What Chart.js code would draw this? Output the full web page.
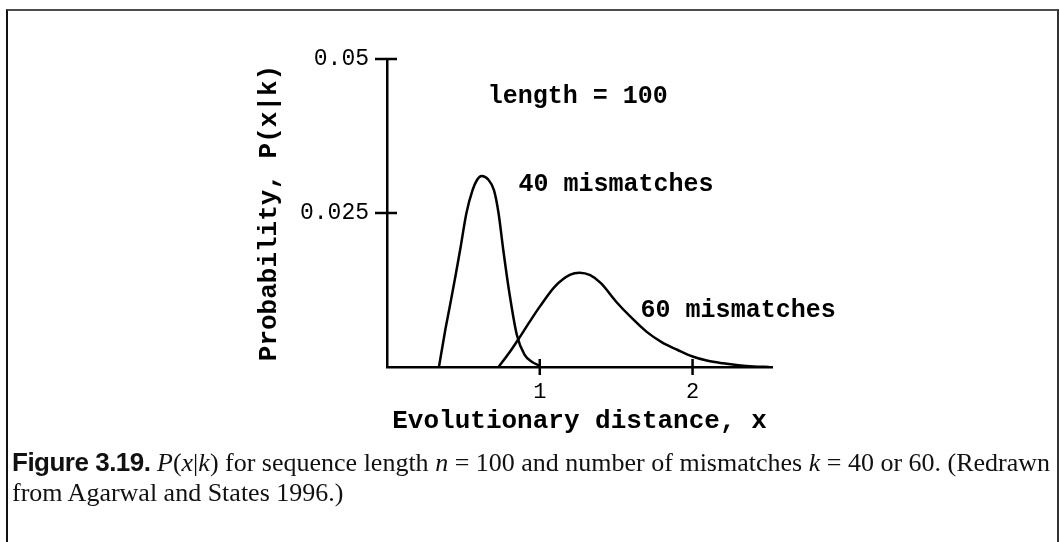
<!DOCTYPE html>
<html>
<head>
<meta charset="utf-8">
<script src="https://cdn.jsdelivr.net/npm/chart.js@4.4.1/dist/chart.umd.min.js"></script>
<style>
  html, body { margin: 0; padding: 0; background: #fff; }
  body { width: 1060px; height: 542px; position: relative; overflow: hidden; }
  #wrap { position: absolute; left: 0; top: 0; width: 1060px; height: 542px; }
  #frame {
    position: absolute; left: 6px; top: 9px; right: 1px; bottom: -20px;
    border-top: 2px solid #4d4d4d; border-left: 2px solid #111; border-right: 2px solid #333;
  }
  #caption {
    position: absolute; left: 12px; top: 447px; width: 1045px;
    font-family: "Liberation Serif", "DejaVu Serif", serif; font-size: 26px; line-height: 30px;
    color: #111; white-space: nowrap;
  }
  #caption b { font-family: "Liberation Sans Narrow", "Liberation Sans", sans-serif; font-stretch: condensed; letter-spacing: -0.5px; }
</style>
</head>
<body>
<div id="frame"></div>
<div id="wrap"><canvas id="chart" width="1060" height="542"></canvas></div>
<div id="caption"><b>Figure 3.19.</b> <i>P</i>(<i>x</i>|<i>k</i>) for sequence length <i>n</i> = 100 and number of mismatches <i>k</i> = 40 or 60. (Redrawn<br>from Agarwal and States 1996.)</div>
<script>
// data
const x40 = [0.34, 0.38, 0.41, 0.45, 0.48, 0.52, 0.56, 0.59, 0.62, 0.66, 0.70, 0.73, 0.76, 0.80, 0.85, 0.90, 0.95, 1.00];
const p40 = [0, 0.0058, 0.0097, 0.0150, 0.0192, 0.0250, 0.0287, 0.0304, 0.0310, 0.0305, 0.0287, 0.0250, 0.0192, 0.0122, 0.0052, 0.0020, 0.0008, 0.0002];
const x60 = [0.73, 0.80, 0.86, 0.93, 1.00, 1.10, 1.20, 1.26, 1.33, 1.40, 1.50, 1.60, 1.70, 1.80, 1.90, 2.00, 2.10, 2.20, 2.30, 2.40, 2.50];
const p60 = [0, 0.0023, 0.0045, 0.0072, 0.0098, 0.0131, 0.0150, 0.0153, 0.0149, 0.0136, 0.0106, 0.0080, 0.0057, 0.0040, 0.0028, 0.0017, 0.0010, 0.0006, 0.0003, 0.0001, 0];

const xTicks = [1, 2];
const yTicks = [0.025, 0.05];
const yTickLabels = ['0.025', '0.05'];

const labelTexts = ['length = 100', '40 mismatches', '60 mismatches'];
const labelX = [0.66, 0.86, 1.66];
const labelY = [0.0438, 0.0296, 0.0091];

const mono = "'Liberation Mono', 'DejaVu Sans Mono', monospace";

function toPoints(xs, ys) {
    return xs.map((x, i) => ({ x: x, y: ys[i] }));
}

// ticks that cross the axes + the text labels inside the plot
const extras = {
    id: 'extras',
    afterDraw(chart) {
        const ctx = chart.ctx;
        const xs = chart.scales.x, ys = chart.scales.y;
        ctx.save();
        ctx.strokeStyle = '#000';
        ctx.lineWidth = 2.5;
        xTicks.forEach(v => {
            const px = xs.getPixelForValue(v);
            ctx.beginPath();
            ctx.moveTo(px, ys.bottom - 8);
            ctx.lineTo(px, ys.bottom + 8);
            ctx.stroke();
        });
        yTicks.forEach(v => {
            const py = ys.getPixelForValue(v);
            ctx.beginPath();
            ctx.moveTo(xs.left - 12, py);
            ctx.lineTo(xs.left + 10, py);
            ctx.stroke();
        });
        ctx.fillStyle = '#000';
        ctx.font = 'bold 25px ' + mono;
        ctx.textBaseline = 'middle';
        ctx.textAlign = 'left';
        labelTexts.forEach((t, i) => {
            ctx.fillText(t, xs.getPixelForValue(labelX[i]), ys.getPixelForValue(labelY[i]));
        });
        ctx.restore();
    }
};

const config = {
    type: 'line',
    data: {
        datasets: [
            { label: '40 mismatches', data: toPoints(x40, p40) },
            { label: '60 mismatches', data: toPoints(x60, p60) }
        ]
    },
    options: {
        responsive: false,
        animation: false,
        events: [],
        layout: { padding: { left: 254, top: 59, right: 288, bottom: 105 } },
        elements: {
            line: { borderColor: '#000', borderWidth: 2.5, cubicInterpolationMode: 'monotone', fill: false },
            point: { radius: 0 }
        },
        plugins: { legend: { display: false }, tooltip: { enabled: false } },
        scales: {
            x: {
                type: 'linear',
                min: 0,
                max: 2.52,
                afterFit(scale) { scale.height = 70; },
                grid: { display: false, drawTicks: false },
                border: { display: true, color: '#000', width: 2.5 },
                afterBuildTicks(scale) { scale.ticks = xTicks.map(v => ({ value: v })); },
                ticks: {
                    padding: 12,
                    color: '#000',
                    font: { family: mono, size: 22 },
                    callback: v => String(v)
                },
                title: {
                    display: true,
                    text: 'Evolutionary distance, x',
                    color: '#000',
                    padding: 0,
                    font: { family: mono, size: 26, weight: 'bold' }
                }
            },
            y: {
                type: 'linear',
                min: 0,
                max: 0.05,
                afterFit(scale) { scale.width = 133; },
                grid: { display: false, drawTicks: false },
                border: { display: true, color: '#000', width: 2.5 },
                afterBuildTicks(scale) { scale.ticks = yTicks.map(v => ({ value: v })); },
                ticks: {
                    padding: 18,
                    color: '#000',
                    font: { family: mono, size: 23 },
                    callback: v => yTickLabels[yTicks.indexOf(v)]
                },
                title: {
                    display: true,
                    text: 'Probability, P(x|k)',
                    color: '#000',
                    padding: 0,
                    font: { family: mono, size: 26, weight: 'bold' }
                }
            }
        }
    },
    plugins: [extras]
};

const chart = new Chart(document.getElementById('chart'), config);
</script>
</body>
</html>
